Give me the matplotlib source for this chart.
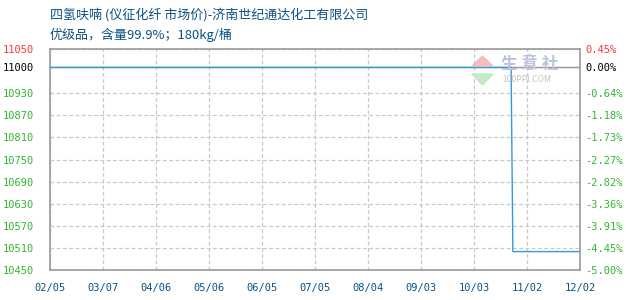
import matplotlib
matplotlib.use("Agg")
import matplotlib.pyplot as plt
from matplotlib.patches import Polygon
import pandas as pd

plt.rcParams['font.family'] = ['Noto Sans CJK SC', 'DejaVu Sans']

dates = ["2023-02-05", "2023-10-24", "2023-10-25", "2023-12-02"]
prices = [11000, 11000, 10500, 10500]
base_price = 11000
left_ticks = [10450, 10510, 10570, 10630, 10690, 10750, 10810, 10870, 10930, 11000, 11050]
right_labels = ["-5.00%", "-4.45%", "-3.91%", "-3.36%", "-2.82%", "-2.27%", "-1.73%", "-1.18%", "-0.64%", "0.00%", "0.45%"]
x_tick_labels = ["02/05", "03/07", "04/06", "05/06", "06/05", "07/05", "08/04", "09/03", "10/03", "11/02", "12/02"]
x_tick_dates = ["2023-02-05", "2023-03-07", "2023-04-06", "2023-05-06", "2023-06-05", "2023-07-05",
                "2023-08-04", "2023-09-03", "2023-10-03", "2023-11-02", "2023-12-02"]
title1 = "四氢呋喃 (仪征化纤 市场价)-济南世纪通达化工有限公司"
title2 = "优级品，含量99.9%；180kg/桶"

GREEN = "#33b533"
RED = "#ff3333"
BLUE = "#3399dd"
NAVY = "#0b5285"
GRID = "#c8c8c8"
SPINE = "#999999"

fig = plt.figure(figsize=(6.3, 3.0), dpi=100)
ax = fig.add_axes([50/630, 30/300, 530/630, 221/300])

d = pd.to_datetime(dates)
xt = pd.to_datetime(x_tick_dates)

ax.set_xlim(xt[0], xt[-1])
ax.set_ylim(left_ticks[0], left_ticks[-1])

ax.set_yticks(left_ticks)
ax.set_xticks(xt)
ax.grid(True, color=GRID, linestyle=(0, (3, 2)), linewidth=0.9)
ax.axhline(base_price, color=SPINE, linewidth=1.0, zorder=2)
ax.plot(d, prices, color=BLUE, linewidth=1.0, zorder=3, solid_joinstyle='miter')

for s in ax.spines.values():
    s.set_color(SPINE)
    s.set_linewidth(1.2)

mono = ['DejaVu Sans Mono']
ax.set_xticklabels(x_tick_labels, fontsize=7.5, color=NAVY, family=mono)
ax.set_yticklabels([str(v) for v in left_ticks], fontsize=7.5, family=mono)
ax.tick_params(axis='both', length=0)
ax.tick_params(axis='y', pad=11.5)
ax.tick_params(axis='x', pad=9)
for lab, v in zip(ax.get_yticklabels(), left_ticks):
    lab.set_color(RED if v > base_price else ('black' if v == base_price else GREEN))

ax2 = ax.twinx()
ax2.set_ylim(ax.get_ylim())
ax2.set_yticks(left_ticks)
ax2.set_yticklabels(right_labels, fontsize=7.5, family=mono)
ax2.tick_params(axis='y', length=0, pad=3.6)
for s in ax2.spines.values():
    s.set_visible(False)
for lab, v in zip(ax2.get_yticklabels(), left_ticks):
    lab.set_color(RED if v > base_price else ('black' if v == base_price else GREEN))

# watermark
def fx(px):
    return px / 630
def fy(py):
    return 1 - py / 300
fig.patches.append(Polygon([(fx(472), fy(66)), (fx(493), fy(66)), (fx(482.5), fy(56))],
                           closed=True, transform=fig.transFigure, color="#f5b8b8", alpha=0.9, zorder=1))
fig.patches.append(Polygon([(fx(472), fy(74)), (fx(493), fy(74)), (fx(482.5), fy(85))],
                           closed=True, transform=fig.transFigure, color="#bfe8c4", alpha=0.9, zorder=1))
fig.text(fx(501), fy(64), "生 意 社", fontsize=12, color="#bcc3dc", va='center', ha='left', fontweight='bold')
fig.text(fx(502), fy(79), "100PPI.COM", fontsize=6.2, color="#c4c4c4", va='center', ha='left')

fig.text(50/630, 1 - 15/300, title1, fontsize=9.4, color=NAVY, va='center', ha='left')
fig.text(50/630, 1 - 35/300, title2, fontsize=9.4, color=NAVY, va='center', ha='left')

fig.savefig("out.png", dpi=100)
